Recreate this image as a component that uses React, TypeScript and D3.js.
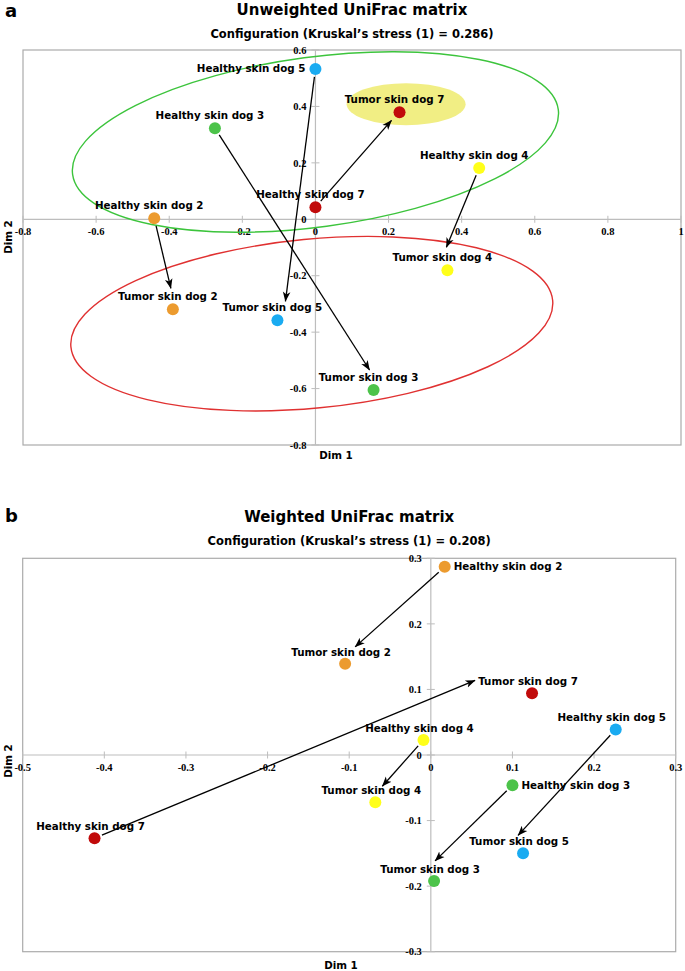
import React from 'react';
import * as d3 from 'd3';

// ---------- shared ----------
const dogIds = ['2', '3', '4', '5', '7'];
const dogColors = ['#ec9b2f', '#4cc34a', '#ffff1a', '#1aabf1', '#c10b0b'];

// ---------- panel a: Unweighted UniFrac ----------
const namesA = [
  'Healthy skin dog 2', 'Healthy skin dog 3', 'Healthy skin dog 4', 'Healthy skin dog 5', 'Healthy skin dog 7',
  'Tumor skin dog 2', 'Tumor skin dog 3', 'Tumor skin dog 4', 'Tumor skin dog 5', 'Tumor skin dog 7',
];
const dim1A = [-0.441, -0.275, 0.448, 0.0, 0.0, -0.39, 0.159, 0.361, -0.104, 0.23];
const dim2A = [0.004, 0.323, 0.182, 0.533, 0.043, -0.319, -0.605, -0.181, -0.358, 0.379];
const xTicksA = [-0.8, -0.6, -0.4, -0.2, 0, 0.2, 0.4, 0.6, 0.8, 1];
const yTicksA = [-0.8, -0.6, -0.4, -0.2, 0, 0.2, 0.4, 0.6];

// ---------- panel b: Weighted UniFrac ----------
const namesB = namesA;
const dim1B = [0.017, 0.1, -0.009, 0.2265, -0.412, -0.105, 0.004, -0.068, 0.113, 0.124];
const dim2B = [0.287, -0.046, 0.023, 0.039, -0.127, 0.139, -0.192, -0.072, -0.15, 0.094];
const xTicksB = [-0.5, -0.4, -0.3, -0.2, -0.1, 0, 0.1, 0.2, 0.3];
const yTicksB = [-0.3, -0.2, -0.1, 0, 0.1, 0.2, 0.3];

const LABEL_FONT = 'DejaVu Sans, Verdana, sans-serif';
const TICK_FONT = 'Liberation Serif, Times New Roman, serif';

type Pt = { name: string; x: number; y: number; dog: string; healthy: boolean };

function buildPoints(names: string[], xs: number[], ys: number[]): Pt[] {
  return names.map((n, i) => ({
    name: n,
    x: xs[i],
    y: ys[i],
    dog: n.slice(-1),
    healthy: n.startsWith('Healthy'),
  }));
}

const colorOf = d3.scaleOrdinal<string, string>().domain(dogIds).range(dogColors);

type PanelProps = {
  id: string;
  letter: string;
  letterY: number;
  title: string;
  subtitle: string;
  top: number;
  box: [number, number, number, number]; // left, top, right, bottom
  xDomain: [number, number];
  yDomain: [number, number];
  xTicks: number[];
  yTicks: number[];
  points: Pt[];
  labelPlace: Record<string, 'above' | 'left' | 'right'>;
  aboveDx: number;
  aboveDy: number;
  arrowEndOffset: Record<string, [number, number]>;
  dim1Pos: [number, number];
  dim2Pos: [number, number];
  ellipses?: { cx: number; cy: number; rx: number; ry: number; rot: number; stroke?: string; fill?: string }[];
};

function Panel(p: PanelProps) {
  const [L, T, R, B] = p.box;
  const x = d3.scaleLinear().domain(p.xDomain).range([L, R]);
  const y = d3.scaleLinear().domain(p.yDomain).range([B, T]);
  const x0 = x(0);
  const y0 = y(0);
  const fmt = (v: number) => String(Math.round(v * 10) / 10);
  const cx = (L + R) / 2;
  const markerId = `arrow-${p.id}`;

  const arrows = dogIds.map((d) => {
    const s = p.points.find((q) => q.dog === d && q.healthy)!;
    const t = p.points.find((q) => q.dog === d && !q.healthy)!;
    const off = p.arrowEndOffset[d] || [0, 0];
    const ex = x(t.x) + off[0];
    const ey = y(t.y) + off[1];
    const sx0 = x(s.x);
    const sy0 = y(s.y);
    const len = Math.hypot(ex - sx0, ey - sy0);
    const sx = sx0 + ((ex - sx0) / len) * 8;
    const sy = sy0 + ((ey - sy0) / len) * 8;
    return { d, sx, sy, ex, ey };
  });

  return (
    <g>
      <defs>
        <marker id={markerId} viewBox="0 -5 10 10" refX={9.5} refY={0} markerWidth={10} markerHeight={10}
          markerUnits="userSpaceOnUse" orient="auto">
          <path d="M0,-3.8 L10,0 L0,3.8 L2.6,0 Z" fill="#000" />
        </marker>
      </defs>
      <text x={5} y={p.letterY} fontFamily={LABEL_FONT} fontWeight="bold" fontSize={18}>{p.letter}</text>
      <text x={cx} y={p.top} textAnchor="middle" fontFamily={LABEL_FONT} fontWeight="bold" fontSize={15}>{p.title}</text>
      <text x={cx} y={p.top + 22.5} textAnchor="middle" fontFamily={LABEL_FONT} fontWeight="bold" fontSize={11.5}>{p.subtitle}</text>

      {/* highlight ellipses (filled) behind */}
      {(p.ellipses || []).filter((e) => e.fill).map((e, i) => (
        <ellipse key={'f' + i} cx={x(e.cx)} cy={y(e.cy)} rx={e.rx} ry={e.ry}
          transform={`rotate(${e.rot} ${x(e.cx)} ${y(e.cy)})`} fill={e.fill} stroke="none" />
      ))}

      {/* frame */}
      <rect x={L} y={T} width={R - L} height={B - T} fill="none" stroke="#ababab" strokeWidth={1.2} />
      {/* zero axes */}
      <line x1={L} x2={R} y1={y0} y2={y0} stroke="#bdbdbd" strokeWidth={1.2} />
      <line x1={x0} x2={x0} y1={T} y2={B} stroke="#bdbdbd" strokeWidth={1.2} />

      {/* x ticks */}
      {p.xTicks.map((v) => (
        <g key={'xt' + v}>
          <line x1={x(v)} x2={x(v)} y1={y0 - 3.5} y2={y0 + 3.5} stroke="#bdbdbd" strokeWidth={1} />
          <text x={x(v)} y={y0 + 16} textAnchor="middle" fontFamily={TICK_FONT} fontWeight="bold" fontSize={10.5}>{fmt(v)}</text>
        </g>
      ))}
      {/* y ticks */}
      {p.yTicks.map((v) => (
        <g key={'yt' + v}>
          <line x1={x0 - 4} x2={x0 + 4} y1={y(v)} y2={y(v)} stroke="#bdbdbd" strokeWidth={1} />
          <text x={x0 - 9} y={y(v)} dy="0.35em" textAnchor="end" fontFamily={TICK_FONT} fontWeight="bold" fontSize={10.5}>{fmt(v)}</text>
        </g>
      ))}

      {/* outline ellipses */}
      {(p.ellipses || []).filter((e) => e.stroke).map((e, i) => (
        <ellipse key={'s' + i} cx={x(e.cx)} cy={y(e.cy)} rx={e.rx} ry={e.ry}
          transform={`rotate(${e.rot} ${x(e.cx)} ${y(e.cy)})`} fill="none" stroke={e.stroke} strokeWidth={1.4} />
      ))}

      {/* arrows */}
      {arrows.map((a) => (
        <line key={'ar' + a.d} x1={a.sx} y1={a.sy} x2={a.ex} y2={a.ey} stroke="#000" strokeWidth={1.3}
          markerEnd={`url(#${markerId})`} />
      ))}

      {/* points */}
      {p.points.map((q) => (
        <circle key={'pt' + q.name} cx={x(q.x)} cy={y(q.y)} r={6} fill={colorOf(q.dog)} />
      ))}

      {/* labels */}
      {p.points.map((q) => {
        const place = p.labelPlace[q.name] || 'above';
        const px = x(q.x);
        const py = y(q.y);
        if (place === 'left')
          return <text key={'lb' + q.name} x={px - 10} y={py + 3.5} textAnchor="end" fontFamily={LABEL_FONT} fontWeight="bold" fontSize={10.3}>{q.name}</text>;
        if (place === 'right')
          return <text key={'lb' + q.name} x={px + 9} y={py + 3.5} textAnchor="start" fontFamily={LABEL_FONT} fontWeight="bold" fontSize={10.3}>{q.name}</text>;
        return <text key={'lb' + q.name} x={px + p.aboveDx} y={py + p.aboveDy} textAnchor="middle" fontFamily={LABEL_FONT} fontWeight="bold" fontSize={10.3}>{q.name}</text>;
      })}

      {/* axis titles */}
      <text x={p.dim1Pos[0]} y={p.dim1Pos[1]} textAnchor="middle" fontFamily={LABEL_FONT} fontWeight="bold" fontSize={10.3}>Dim 1</text>
      <text transform={`translate(${p.dim2Pos[0]},${p.dim2Pos[1]}) rotate(-90)`} textAnchor="middle"
        fontFamily={LABEL_FONT} fontWeight="bold" fontSize={10.3}>Dim 2</text>
    </g>
  );
}

export default function App() {
  const ptsA = buildPoints(namesA, dim1A, dim2A);
  const ptsB = buildPoints(namesB, dim1B, dim2B);
  return (
    <svg width={685} height={971} style={{ position: 'absolute', left: 0, top: 0, background: '#fff' }}>
      <rect width={685} height={971} fill="#fff" />
      <Panel
        id="a"
        letter="a"
        letterY={17}
        title="Unweighted UniFrac matrix"
        subtitle="Configuration (Kruskal’s stress (1) = 0.286)"
        top={15}
        box={[23, 50, 681, 445]}
        xDomain={[-0.8, 1]}
        yDomain={[-0.8, 0.6]}
        xTicks={xTicksA}
        yTicks={yTicksA}
        points={ptsA}
        labelPlace={{ 'Healthy skin dog 5': 'left' }}
        aboveDx={-5}
        aboveDy={-9}
        arrowEndOffset={{ '2': [-2, -21], '3': [-4, -20], '4': [-1, -23], '5': [8, -19], '7': [-8, 8] }}
        dim1Pos={[336, 459]}
        dim2Pos={[12, 237]}
        ellipses={[
          { cx: 0.248, cy: 0.408, rx: 59.5, ry: 21, rot: 0, fill: '#f1ee84' },
          { cx: 0.0, cy: 0.274, rx: 245, ry: 85, rot: -7.6, stroke: '#3cc43c' },
          { cx: -0.01, cy: -0.37, rx: 242, ry: 84.5, rot: -5.5, stroke: '#e03131' },
        ]}
      />
      <Panel
        id="b"
        letter="b"
        letterY={522}
        title="Weighted UniFrac matrix"
        subtitle="Configuration (Kruskal’s stress (1) = 0.208)"
        top={522}
        box={[22.7, 558.3, 675.7, 951.7]}
        xDomain={[-0.5, 0.3]}
        yDomain={[-0.3, 0.3]}
        xTicks={xTicksB}
        yTicks={yTicksB}
        points={ptsB}
        labelPlace={{ 'Healthy skin dog 2': 'right', 'Healthy skin dog 3': 'right' }}
        aboveDx={-4}
        aboveDy={-8}
        arrowEndOffset={{ '2': [10, -17], '3': [1, -20], '4': [7, -16], '5': [-5, -18], '7': [-57, -13] }}
        dim1Pos={[341, 969]}
        dim2Pos={[12, 761]}
      />
    </svg>
  );
}
